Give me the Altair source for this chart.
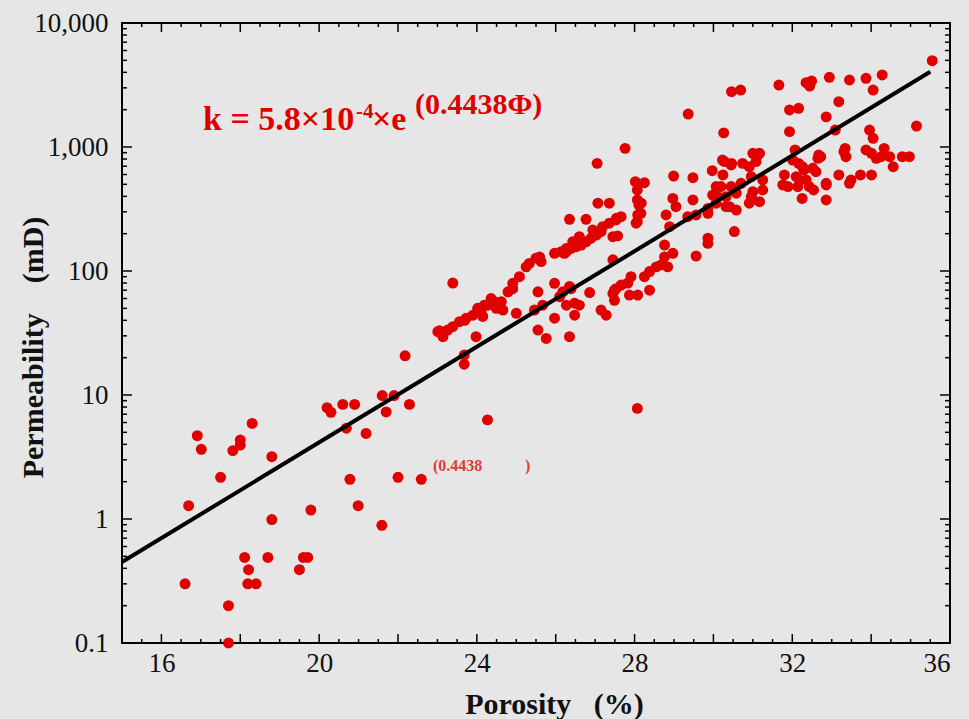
import altair as alt
import pandas as pd

# ---------------- data ----------------
porosity = [
    16.60, 16.69, 16.91, 17.01, 17.50, 17.70, 17.70, 17.81, 18.00, 18.00,
    18.11, 18.21, 18.19, 18.40, 18.30, 18.70, 18.80, 18.80, 19.50, 19.60,
    19.71, 19.79, 20.20, 20.30, 20.60, 20.69, 20.78, 20.90, 20.99, 21.19,
    21.59, 21.60, 21.70, 21.90, 22.00, 22.18, 22.29, 22.59, 23.68, 23.68,
    23.39, 24.27, 28.07,
    23.01, 23.14, 23.05, 23.39, 23.56, 23.73, 23.90, 23.98, 24.11, 24.19,
    24.15, 24.36, 24.49, 24.62, 24.66, 24.79, 24.91, 25.00, 25.08, 25.25,
    25.50, 25.63, 25.97, 26.27, 26.52, 26.77, 27.03, 27.45,
    24.91, 24.45, 24.28, 24.02, 23.69, 23.26, 25.33, 25.59, 26.22, 26.39,
    26.65, 26.90, 27.15,
    25.55, 25.46, 25.67, 25.55, 25.76, 25.97, 25.97, 26.18, 26.39, 26.27,
    26.48, 26.60, 26.48, 26.35, 26.86, 27.15, 27.28, 27.45, 27.49, 27.49,
    26.35, 26.10,
    30.26, 27.76, 27.05, 28.02, 28.25, 28.07, 28.99, 29.48, 29.97, 30.23,
    30.46, 30.74, 31.00, 31.10, 27.07, 27.36, 28.17, 28.08, 28.04, 26.35,
    26.77, 26.94, 27.19, 27.36, 27.53, 27.66, 26.60, 26.43, 26.27, 26.14,
    27.57, 28.97, 29.48, 29.05, 28.80, 28.89, 29.35, 29.56, 29.86, 30.07,
    29.98, 30.32, 30.58, 30.41, 30.58, 30.19, 30.45, 30.70, 30.96, 30.96,
    30.91, 30.53, 29.86, 29.86, 29.56,
    28.11, 28.16, 28.07, 28.07, 27.54,
    28.76, 28.97, 28.76, 28.67, 28.84, 28.55, 28.38, 28.25, 27.91, 27.83,
    27.66, 27.53, 27.45, 27.87, 28.08, 28.38,
    35.55, 34.28, 33.87, 34.05, 33.45, 32.94, 32.49, 32.35, 32.44, 31.66,
    30.46, 30.69, 33.18, 31.93, 32.16, 32.86, 29.36, 33.09, 31.93, 35.15,
    33.96, 34.05, 32.07, 32.67, 33.31, 33.36, 33.87, 34.01, 34.33, 34.47,
    34.56, 34.79, 34.97, 31.80, 31.89, 32.16, 32.30, 32.35, 32.54, 32.72,
    32.86, 33.18, 33.45, 33.73, 34.01, 32.86, 32.25,
    32.01, 32.52, 32.26, 32.60, 32.18, 32.10, 31.76, 32.14, 32.43, 32.86,
    32.65, 33.34, 34.13, 34.25, 33.49,
    31.17, 31.08, 30.28, 30.45, 30.24, 31.25, 31.25, 31.00, 31.17, 30.91,
    30.32, 30.07, 30.11, 29.86,
]
permeability = [
    0.30, 1.28, 4.7, 3.65, 2.17, 0.20, 0.10, 3.56, 4.33, 3.95,
    0.49, 0.39, 0.30, 0.30, 5.9, 0.49, 3.18, 0.99, 0.39, 0.49,
    0.49, 1.18, 7.9, 7.25, 8.4, 5.4, 2.09, 8.4, 1.28, 4.9,
    0.89, 9.9, 7.3, 9.9, 2.17, 20.7, 8.4, 2.09, 21, 17.7,
    80, 6.3, 7.8,
    32.4, 29.5, 33, 35.6, 39, 41.6, 44, 29.5, 48.4, 53,
    43, 60, 50, 56.5, 48.4, 68, 72, 45.6, 90, 108,
    127, 119, 139, 143, 157, 172, 195, 189,
    79.6, 56.5, 53, 50, 40, 33.4, 115, 130, 139, 152,
    162, 184, 208,
    68, 48.4, 53, 33.4, 28.6, 79.6, 41.6, 68, 72, 53,
    55, 53, 44, 29.5, 67, 48.4, 44, 123, 70, 58,
    75, 62,
    1300, 975, 738, 525, 515, 450, 583, 565, 644, 785,
    738, 738, 890, 835, 352, 352, 352, 283, 243, 261,
    261, 214, 228, 243, 258, 274, 189, 172, 152, 143,
    192, 385, 374, 330, 283, 228, 274, 283, 320, 352,
    410, 398, 424, 330, 310, 480, 480, 510, 576, 398,
    693, 208, 184, 167, 132,
    340, 292, 250, 374, 266,
    162, 139, 130, 112, 108, 108, 99, 90, 90, 80,
    77, 72, 66, 64, 64, 70,
    4970, 3810, 3580, 2880, 3470, 3650, 3400, 3300, 3100, 3160,
    2790, 2880, 2320, 1990, 2050, 1750, 1845, 1370, 1330, 1475,
    1370, 1175, 946, 861, 916, 835, 946, 890, 975, 835,
    693, 835, 835, 595, 480, 738, 653, 542, 450, 835,
    494, 595, 510, 595, 595, 374, 385,
    785, 673, 693, 632, 542, 576, 494, 480, 480, 510,
    810, 975, 810, 835, 542,
    890, 762, 762, 716, 595, 542, 450, 436, 362, 352,
    330, 480, 398, 292,
]

fit_porosity = [15.0, 35.5]
fit_permeability = [0.45, 4040]

x_label_values = [16, 20, 24, 28, 32, 36]
x_major_ticks = [16, 18, 20, 22, 24, 26, 28, 30, 32, 34]
x_minor_ticks = [15.5, 16.5, 17, 17.5, 18.5, 19, 19.5, 20.5, 21, 21.5,
                 22.5, 23, 23.5, 24.5, 25, 25.5, 26.5, 27, 27.5, 28.5,
                 29, 29.5, 30.5, 31, 31.5, 32.5, 33, 33.5, 34.5, 35, 35.5]
y_label_values = [0.1, 1, 10, 100, 1000, 10000]
y_major_ticks = [1, 10, 100, 1000]
y_minor_ticks = [0.2, 0.3, 0.4, 0.5, 0.6, 0.7, 0.8, 0.9,
                 2, 3, 4, 5, 6, 7, 8, 9,
                 20, 30, 40, 50, 60, 70, 80, 90,
                 200, 300, 400, 500, 600, 700, 800, 900,
                 2000, 3000, 4000, 5000, 6000, 7000, 8000, 9000]

# ---------------- chart ----------------
W, H = 828, 620
RED = "#e00000"
SERIF = "Liberation Serif"
NB = "\u00a0"

xscale = alt.Scale(domain=[15, 36], nice=False, zero=False)
yscale = alt.Scale(type="log", domain=[0.1, 10000], nice=False)

x_axis = alt.Axis(values=x_label_values, ticks=False, domain=False, grid=False,
                  labelFont=SERIF, labelFontSize=27, labelColor="#111",
                  labelPadding=7, title="Porosity" + NB * 3 + "(%)",
                  titleFont=SERIF, titleFontSize=30, titleFontWeight="bold",
                  titleColor="#111", titleX=432, titleY=61,
                  titleBaseline="middle", titleAlign="center")
y_axis = alt.Axis(values=y_label_values, format=",", ticks=False, domain=False,
                  grid=False, labelFont=SERIF, labelFontSize=27,
                  labelColor="#111", labelPadding=14,
                  title="Permeability" + NB * 4 + "(mD)", titleFont=SERIF,
                  titleFontSize=30, titleFontWeight="bold", titleColor="#111",
                  titleAngle=-90, titleX=-89, titleY=324,
                  titleBaseline="middle", titleAlign="center")


def X(field):
    return alt.X(field, type="quantitative", scale=xscale, axis=x_axis)


def Y(field):
    return alt.Y(field, type="quantitative", scale=yscale, axis=y_axis)


pts_df = pd.DataFrame({"Porosity": porosity, "Permeability": permeability})
fit_df = pd.DataFrame({"Porosity": fit_porosity, "Permeability": fit_permeability})

points = alt.Chart(pts_df).mark_circle(size=120, color=RED, opacity=1).encode(
    x=X("Porosity"), y=Y("Permeability"))

fit = alt.Chart(fit_df).mark_line(color="black", strokeWidth=4).encode(
    x=X("Porosity"), y=Y("Permeability"))


def xticks(vals, length):
    df = pd.DataFrame({"Porosity": vals})
    base = alt.Chart(df).mark_rule(color="black", strokeWidth=1.5)
    return [base.encode(x=X("Porosity"), y=alt.value(H), y2=alt.value(H - length)),
            base.encode(x=X("Porosity"), y=alt.value(0), y2=alt.value(length))]


def yticks(vals, length):
    df = pd.DataFrame({"Permeability": vals})
    base = alt.Chart(df).mark_rule(color="black", strokeWidth=1.5)
    return [base.encode(y=Y("Permeability"), x=alt.value(0), x2=alt.value(length)),
            base.encode(y=Y("Permeability"), x=alt.value(W), x2=alt.value(W - length))]


one = pd.DataFrame({"a": [0]})


def label(txt, x, y, size, color=RED):
    return alt.Chart(one).mark_text(
        text=txt, font=SERIF, fontSize=size, fontWeight="bold", color=color,
        align="left", baseline="alphabetic").encode(x=alt.value(x), y=alt.value(y))


texts = [
    label("k = 5.8×10", 81, 107, 34),
    label("-4", 234, 95, 21),
    label("×e", 250, 107, 34),
    label("(0.4438Φ)", 293, 91, 30),
    label("(0.4438", 311, 448, 16, "#e23a3a"),
    label(")", 403, 448, 16, "#e23a3a"),
]

layers = [points, fit] + xticks(x_major_ticks, 9) + xticks(x_minor_ticks, 4) \
    + yticks(y_major_ticks, 10) + yticks(y_minor_ticks, 5) + texts

chart = alt.layer(*layers).properties(
    width=W, height=H,
    background="#e6e6e6",
    padding={"left": 122, "top": 23, "right": 19, "bottom": 76},
    autosize=alt.AutoSizeParams(type="none"),
).configure_view(stroke="black", strokeWidth=2)

chart.save("out.html", embed_options={"renderer": "svg", "actions": False})
